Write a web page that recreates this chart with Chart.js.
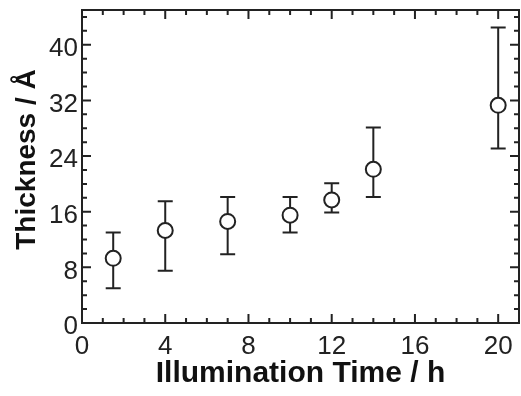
<!DOCTYPE html>
<html><head><meta charset="utf-8">
<script src="https://cdn.jsdelivr.net/npm/chart.js@4"></script>
<style>html,body{margin:0;padding:0;background:#fff}#wrap{width:521px;height:396px}</style>
</head><body><div id="wrap"><canvas id="c" width="521" height="396"></canvas></div>
<script>
const hours=[1.5,4,7,10,12,14,20];
const thickness=[9.3,13.3,14.6,15.5,17.7,22.1,31.3];
const errLow=[5.0,7.5,9.9,13.0,15.9,18.1,25.1];
const errHigh=[13.0,17.5,18.1,18.1,20.1,28.1,42.5];
const xTicks=[0,4,8,12,16,20];
const yTicks=[0,8,16,24,32,40];
const xMinorStep=1, yMinorStep=2;
const xMax=21, yMax=45;
const yTitle='Thickness / Å';

const INK='#222';
const FONT='"Liberation Sans", Arial, sans-serif';
const deco={
  id:'deco',
  beforeDatasetsDraw(chart){
    const {ctx,scales:{x,y}}=chart;
    ctx.save();ctx.strokeStyle=INK;ctx.lineWidth=2;
    hours.forEach((h,i)=>{
      const px=x.getPixelForValue(h),t=y.getPixelForValue(errHigh[i]),b=y.getPixelForValue(errLow[i]);
      ctx.beginPath();
      ctx.moveTo(px,t);ctx.lineTo(px,b);
      ctx.moveTo(px-7.5,t);ctx.lineTo(px+7.5,t);
      ctx.moveTo(px-7.5,b);ctx.lineTo(px+7.5,b);
      ctx.stroke();
    });
    ctx.restore();
  },
  afterDraw(chart){
    const {ctx,chartArea:a,scales:{x,y}}=chart;
    ctx.save();ctx.strokeStyle=INK;ctx.lineWidth=2;
    ctx.strokeRect(a.left,a.top,a.right-a.left,a.bottom-a.top);
    ctx.beginPath();
    for(let v=0;v<=xMax;v+=xMinorStep){
      const px=x.getPixelForValue(v);const L=xTicks.includes(v)?9:5;
      ctx.moveTo(px,a.bottom);ctx.lineTo(px,a.bottom-L);
      ctx.moveTo(px,a.top);ctx.lineTo(px,a.top+L);
    }
    for(let v=0;v<=yMax;v+=yMinorStep){
      const py=y.getPixelForValue(v);const L=yTicks.includes(v)?9:5;
      ctx.moveTo(a.left,py);ctx.lineTo(a.left+L,py);
      ctx.moveTo(a.right,py);ctx.lineTo(a.right-L,py);
    }
    ctx.stroke();
    // y axis title
    ctx.translate(27,(a.top+a.bottom)/2-7);
    ctx.rotate(-Math.PI/2);
    ctx.fillStyle='#111';ctx.font='bold 28px '+FONT;
    ctx.textAlign='center';ctx.textBaseline='middle';
    ctx.fillText(yTitle,0,0);
    ctx.restore();
  }
};
const noPad=s=>{s.paddingTop=0;s.paddingBottom=0;s.paddingLeft=0;s.paddingRight=0;};

new Chart(document.getElementById('c'),{
  type:'scatter',
  data:{datasets:[{
    data:hours.map((h,i)=>({x:h,y:thickness[i]})),
    pointRadius:7.5,pointHoverRadius:7.5,pointBorderWidth:2,
    pointBackgroundColor:'#fff',pointBorderColor:INK,showLine:false,clip:false
  }]},
  options:{
    responsive:false,animation:false,devicePixelRatio:1,
    layout:{autoPadding:false,padding:{top:10,right:2,left:0,bottom:0}},
    plugins:{legend:{display:false},tooltip:{enabled:false}},
    scales:{
      x:{type:'linear',min:0,max:xMax,
        grid:{display:false,drawTicks:false},border:{display:false},
        afterBuildTicks:s=>{s.ticks=xTicks.map(v=>({value:v}));},
        afterFit:s=>{s.height=73;noPad(s);},
        ticks:{color:INK,padding:8,maxRotation:0,font:{family:FONT,size:26}},
        title:{display:true,text:'Illumination Time / h',color:'#111',padding:{top:0,bottom:4},font:{family:FONT,size:30,weight:'bold'}}
      },
      y:{type:'linear',min:0,max:yMax,
        grid:{display:false,drawTicks:false},border:{display:false},
        afterBuildTicks:s=>{s.ticks=yTicks.map(v=>({value:v}));},
        afterFit:s=>{s.width=82;noPad(s);},
        ticks:{color:INK,padding:4,labelOffset:4,font:{family:FONT,size:26}},
        title:{display:false}
      }
    }
  },
  plugins:[deco]
});
</script></body></html>
